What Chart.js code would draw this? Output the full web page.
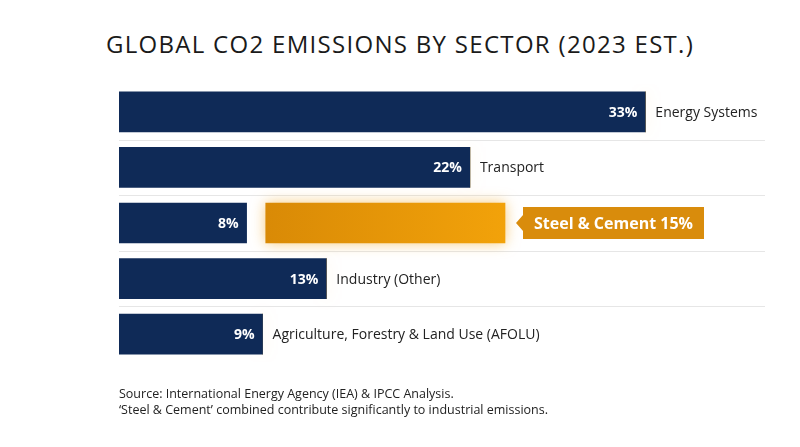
<!DOCTYPE html>
<html><head><meta charset="utf-8">
<script src="https://cdn.jsdelivr.net/npm/chart.js@4"></script>
<style>
html,body{margin:0;padding:0;background:#fff;}
#wrap{position:relative;width:800px;height:447px;}
#title{position:absolute;top:27px;left:0;width:800px;text-align:center;font:400 24px "Open Sans",sans-serif;color:#1a1a1a;letter-spacing:1.3px;}
#foot{position:absolute;left:119px;top:386px;font:400 12.5px "Open Sans",sans-serif;color:#222;line-height:16px;}
#c{position:absolute;left:0;top:0;}
</style></head><body>
<div id="wrap">
<div id="title">GLOBAL CO2 EMISSIONS BY SECTOR (2023 EST.)</div>
<canvas id="c" width="800" height="447"></canvas>
<div id="foot">Source: International Energy Agency (IEA) &amp; IPCC Analysis.<br>‘Steel &amp; Cement’ combined contribute significantly to industrial emissions.</div>
</div>
<script>
const categories = ["Energy Systems", "Transport", "", "Industry (Other)", "Agriculture, Forestry & Land Use (AFOLU)"];
const mainValues = [33, 22, 8, 13, 9];
const gapValues = [0, 0, 1.2, 0, 0];
const highlightValues = [0, 0, 15, 0, 0];
const highlightLabel = "Steel & Cement 15%";

const navy = "#0f2a57", orange = "#e8960a";
const sepPlugin = {
  id: "sep",
  beforeDatasetsDraw(chart) {
    const ctx = chart.ctx, a = chart.chartArea, y = chart.scales.y;
    ctx.save(); ctx.strokeStyle = "#e6e6e6"; ctx.lineWidth = 1;
    for (let i = 0; i < categories.length - 1; i++) {
      const yy = Math.round((y.getPixelForValue(i) + y.getPixelForValue(i + 1)) / 2) + 0.5;
      ctx.beginPath(); ctx.moveTo(a.left, yy); ctx.lineTo(a.right, yy); ctx.stroke();
    }
    ctx.restore();
  }
};
const labelPlugin = {
  id: "labels",
  afterDatasetsDraw(chart) {
    const ctx = chart.ctx;
    const m0 = chart.getDatasetMeta(0), m2 = chart.getDatasetMeta(2);
    ctx.save();
    m0.data.forEach((bar, i) => {
      ctx.font = "700 14px 'Open Sans', sans-serif";
      ctx.fillStyle = "#fff"; ctx.textAlign = "right"; ctx.textBaseline = "middle";
      ctx.fillText(mainValues[i] + "%", bar.x - 8, bar.y + 1);
      if (categories[i]) {
        ctx.font = "400 14px 'Open Sans', sans-serif";
        ctx.fillStyle = "#222"; ctx.textAlign = "left";
        ctx.fillText(categories[i], bar.x + 10, bar.y + 1);
      }
    });
    m2.data.forEach((bar, i) => {
      if (!highlightValues[i]) return;
      const x0 = bar.x + 18, y = bar.y, h = 32;
      ctx.font = "700 16px 'Open Sans', sans-serif";
      const w = ctx.measureText(highlightLabel).width + 22;
      ctx.fillStyle = "#d98c0c";
      ctx.beginPath();
      ctx.moveTo(x0 - 7, y);
      ctx.lineTo(x0, y - 8);
      ctx.lineTo(x0, y - h/2);
      ctx.lineTo(x0 + w, y - h/2);
      ctx.lineTo(x0 + w, y + h/2);
      ctx.lineTo(x0, y + h/2);
      ctx.lineTo(x0, y + 8);
      ctx.closePath(); ctx.fill();
      ctx.fillStyle = "#fff"; ctx.textAlign = "left"; ctx.textBaseline = "middle";
      ctx.fillText(highlightLabel, x0 + 11, y + 1);
    });
    ctx.restore();
  }
};
const glowPlugin = {
  id: "glow",
  beforeDatasetDraw(chart, args) {
    if (args.index === 2) { const c = chart.ctx; c.save(); c.shadowColor = "rgba(240,160,20,0.55)"; c.shadowBlur = 14; }
  },
  afterDatasetDraw(chart, args) { if (args.index === 2) chart.ctx.restore(); }
};
new Chart(document.getElementById("c"), {
  type: "bar",
  data: {
    labels: categories,
    datasets: [
      { data: mainValues, backgroundColor: navy, barThickness: 40 },
      { data: gapValues, backgroundColor: "rgba(0,0,0,0)", barThickness: 40 },
      { data: highlightValues, backgroundColor: (c) => {
          const a = c.chart.chartArea; if (!a) return orange;
          const g = c.chart.ctx.createLinearGradient(265, 0, 505, 0);
          g.addColorStop(0, "#d98a06"); g.addColorStop(1, "#f2a20a"); return g; }, barThickness: 40 }
    ]
  },
  options: {
    indexAxis: "y", responsive: false, animation: false,
    layout: { padding: { left: 119, right: 35, top: 84, bottom: 85 } },
    plugins: { legend: { display: false }, tooltip: { enabled: false } },
    scales: {
      x: { stacked: true, min: 0, max: 40.5, display: false },
      y: { stacked: true, display: false }
    }
  },
  plugins: [sepPlugin, glowPlugin, labelPlugin]
});
</script>
</body></html>
